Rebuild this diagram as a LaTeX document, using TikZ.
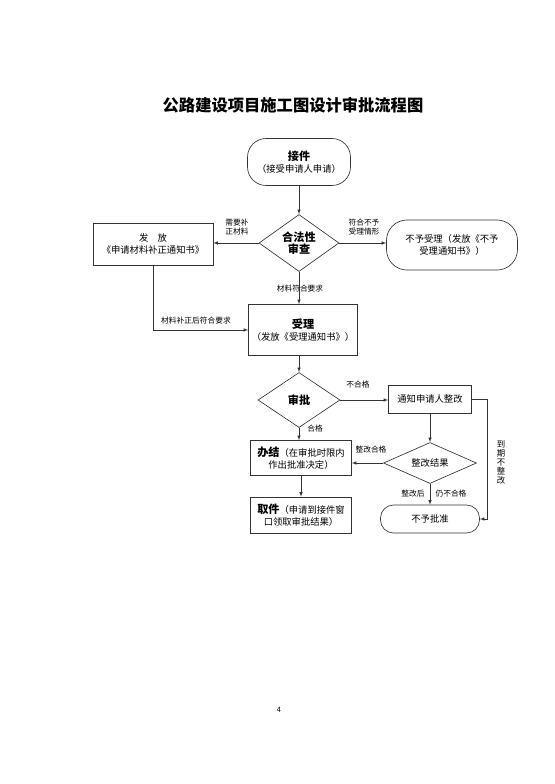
\documentclass[tikz,border=0pt]{standalone}
\usepackage{fontspec}
\setmainfont{Noto Sans CJK SC}
\usetikzlibrary{shapes.geometric}

\newcommand{\bhead}[1]{{\fontsize{12}{14}\selectfont\bfseries #1}}

\begin{document}
\begin{tikzpicture}[>=latex, x=1.0745pt, y=-1.0745pt,
    every node/.style={font=\fontsize{10}{13}\selectfont},
    box/.style={draw=black!80, line width=0.7pt, align=center, inner sep=2pt},
    term/.style={box, rounded corners=#1}, term/.default=20pt,
    check/.style={box, diamond, aspect=1.4, inner sep=0pt},
    lbl/.style={font=\fontsize{8.3}{10}\selectfont, align=left, inner sep=0pt},
    flow/.style={->, draw=black!80, line width=0.7pt}]
        % Parameters
        \def\px{1.0745pt}
        \useasboundingbox (0,0) rectangle (554,784);

        % Title
        \node[font=\fontsize{17.5}{20}\selectfont\bfseries] (title) at (293,105) {公路建设项目施工图设计审批流程图};

        % Intake and legality check
        \node[term, minimum width=103*\px, minimum height=47*\px] (jj) at (299,162) {\bhead{接件}\\（接受申请人申请）};
        \node[check, minimum width=80*\px, minimum height=57*\px] (hf) at (299,243) {\bhead{合法性}\\\bhead{审查}};
        \node[box, minimum width=120*\px, minimum height=42*\px] (ff) at (153,244) {发\quad 放\\《申请材料补正通知书》};
        \node[term=22pt, minimum width=131*\px, minimum height=50*\px] (bysl) at (452,245) {不予受理（发放《不予\\受理通知书》）};

        % Acceptance and approval
        \node[box, minimum width=109*\px, minimum height=51*\px] (sl) at (303,330) {\bhead{受理}\\（发放《受理通知书》）};
        \node[check, minimum width=82*\px, minimum height=55*\px] (sp) at (299,400) {\bhead{审批}};
        \node[box, minimum width=101*\px, minimum height=35*\px] (bj) at (301,458) {\bhead{办结}（在审批时限内\\作出批准决定）};
        \node[box, minimum width=101*\px, minimum height=36*\px] (qj) at (301,515) {\bhead{取件}（申请到接件窗\\口领取审批结果）};

        % Rectification branch
        \node[box, minimum width=83*\px, minimum height=28*\px] (tz) at (430,399) {通知申请人整改};
        \node[check, minimum width=93*\px, minimum height=41*\px] (zg) at (430,463) {整改结果};
        \node[term=14pt, minimum width=99*\px, minimum height=28*\px] (bypz) at (430,519) {不予批准};
        \coordinate (tzr) at (487,399);

        % Connectors
        \draw[flow] (jj.south -| hf.north) -- (hf.north);
        \draw[flow] (hf.west) -- (hf.west -| ff.east);
        \draw[flow] (hf.east) -- (hf.east -| bysl.west);
        \draw[flow] (hf.south) -- (hf.south |- sl.north);
        \draw[flow] (ff.south) |- (sl.west);
        \draw[flow] (sp.north |- sl.south) -- (sp.north);
        \draw[flow] (sp.east) -- (sp.east -| tz.west);
        \draw[flow] (sp.south) -- (sp.south |- bj.north);
        \draw[flow] (bj.south) -- (bj.south |- qj.north);
        \draw[flow] (tz.south) -- (zg.north);
        \draw[flow] (zg.west) -- (zg.west -| bj.east);
        \draw[flow] (zg.south) -- (bypz.north);
        \draw[flow] (tz.east) -| (tzr |- bypz.east) -- (bypz.east);

        % Connector labels
        \node[lbl] (l1) at (237,227) {需要补\\正材料};
        \node[lbl] (l2) at (364,227) {符合不予\\受理情形};
        \node[lbl] (l3) at (300,289) {材料符合要求};
        \node[lbl] (l4) at (196,321) {材料补正后符合要求};
        \node[lbl] (l5) at (358,385) {不合格};
        \node[lbl] (l6) at (315,429) {合格};
        \node[lbl] (l7) at (371,450) {整改合格};
        \node[lbl] (l8) at (413,494) {整改后};
        \node[lbl] (l9) at (451,494) {仍不合格};
        \node[lbl, font=\fontsize{9}{9.7}\selectfont, align=center] (l10) at (501,462) {到\\期\\不\\整\\改};

        % Page number
        \node[font=\fontsize{8}{10}\selectfont] (pg) at (279,710) {4};
\end{tikzpicture}
\end{document}
